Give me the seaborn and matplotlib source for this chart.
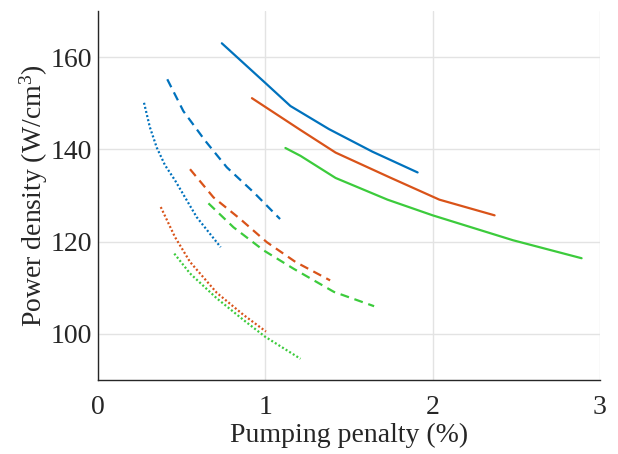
import numpy as np
import pandas as pd
import matplotlib
matplotlib.use("Agg")
import matplotlib.pyplot as plt
import seaborn as sns

# ---- data ----
blue_solid_x = [0.74, 1.00, 1.15, 1.38, 1.64, 1.91]
blue_solid_y = [163.0, 154.4, 149.4, 144.4, 139.5, 135.0]
orange_solid_x = [0.92, 1.21, 1.42, 1.745, 2.04, 2.37]
orange_solid_y = [151.1, 144.2, 139.3, 133.9, 129.1, 125.7]
green_solid_x = [1.12, 1.21, 1.42, 1.73, 2.00, 2.48, 2.89]
green_solid_y = [140.3, 138.6, 133.8, 129.1, 125.7, 120.3, 116.4]

blue_dash_x = [0.414, 0.51, 0.64, 0.77, 0.93, 1.088]
blue_dash_y = [155.2, 148.3, 141.9, 136.1, 130.7, 124.9]
orange_dash_x = [0.55, 0.69, 0.85, 1.008, 1.18, 1.387]
orange_dash_y = [135.7, 129.6, 124.9, 119.9, 115.6, 111.6]
green_dash_x = [0.66, 0.81, 0.99, 1.17, 1.41, 1.65]
green_dash_y = [128.3, 123.1, 118.1, 114.1, 109.1, 106.0]

blue_dot_x = [0.275, 0.31, 0.351, 0.40, 0.46, 0.59, 0.733]
blue_dot_y = [150.1, 144.8, 140.4, 136.6, 133.3, 125.3, 118.8]
orange_dot_x = [0.375, 0.46, 0.55, 0.71, 0.87, 1.004]
orange_dot_y = [127.5, 121.0, 115.6, 108.9, 104.1, 100.5]
green_dot_x = [0.456, 0.55, 0.71, 0.87, 0.998, 1.21]
green_dot_y = [117.4, 113.1, 107.7, 103.0, 99.4, 94.6]

x_ticks = [0, 1, 2, 3]
y_ticks = [100, 120, 140, 160]
x_label = "Pumping penalty (%)"
y_label = r"Power density (W/cm$^{3}$)"

series = [
    ("blue", "solid", blue_solid_x, blue_solid_y),
    ("orange", "solid", orange_solid_x, orange_solid_y),
    ("green", "solid", green_solid_x, green_solid_y),
    ("blue", "dash", blue_dash_x, blue_dash_y),
    ("orange", "dash", orange_dash_x, orange_dash_y),
    ("green", "dash", green_dash_x, green_dash_y),
    ("blue", "dot", blue_dot_x, blue_dot_y),
    ("orange", "dot", orange_dot_x, orange_dot_y),
    ("green", "dot", green_dot_x, green_dot_y),
]
rows = []
for c, s, xs, ys in series:
    for xv, yv in zip(xs, ys):
        rows.append({"x": xv, "y": yv, "color": c, "style": s, "id": c + s})
df = pd.DataFrame(rows)

sns.set_theme(style="white")
plt.rcParams["font.family"] = ["Liberation Serif", "DejaVu Serif"]
plt.rcParams["mathtext.fontset"] = "custom"
plt.rcParams["mathtext.rm"] = "Liberation Serif"
plt.rcParams["mathtext.it"] = "Liberation Serif:italic"

palette = {"blue": "#0072BD", "orange": "#D95319", "green": "#3CCB3C"}
dashes = {"solid": "", "dash": (4, 2.6), "dot": (0.9, 1.0)}

fig = plt.figure(figsize=(6.18, 4.54), dpi=100)
ax = fig.add_axes([98 / 618, 74 / 454, 502 / 618, 369 / 454])

sns.lineplot(data=df, x="x", y="y", hue="color", style="style", units="id",
             estimator=None, sort=False, palette=palette, dashes=dashes,
             linewidth=1.6, legend=False, ax=ax)

ax.set_xlim(0, 3)
ax.set_ylim(90, 170)
ax.set_xticks(x_ticks)
ax.set_yticks(y_ticks)
ax.set_xticklabels([str(v) for v in x_ticks])
ax.set_yticklabels([str(v) for v in y_ticks])
ax.grid(True, color="#e3e3e3", linewidth=1.0)
ax.set_axisbelow(True)
for side in ["top", "right"]:
    ax.spines[side].set_visible(False)
for side in ["left", "bottom"]:
    ax.spines[side].set_color("#262626")
    ax.spines[side].set_linewidth(1.0)
ax.tick_params(axis="both", direction="in", length=4, width=0.8,
               color="#262626", labelsize=20, labelcolor="#262626")
ax.tick_params(axis="x", pad=11)
ax.tick_params(axis="y", pad=4)
ax.set_xlabel(x_label, fontsize=20, color="#262626", labelpad=2)
ax.set_ylabel(y_label, fontsize=20, color="#262626", labelpad=1)

fig.savefig("out.png", dpi=100)
